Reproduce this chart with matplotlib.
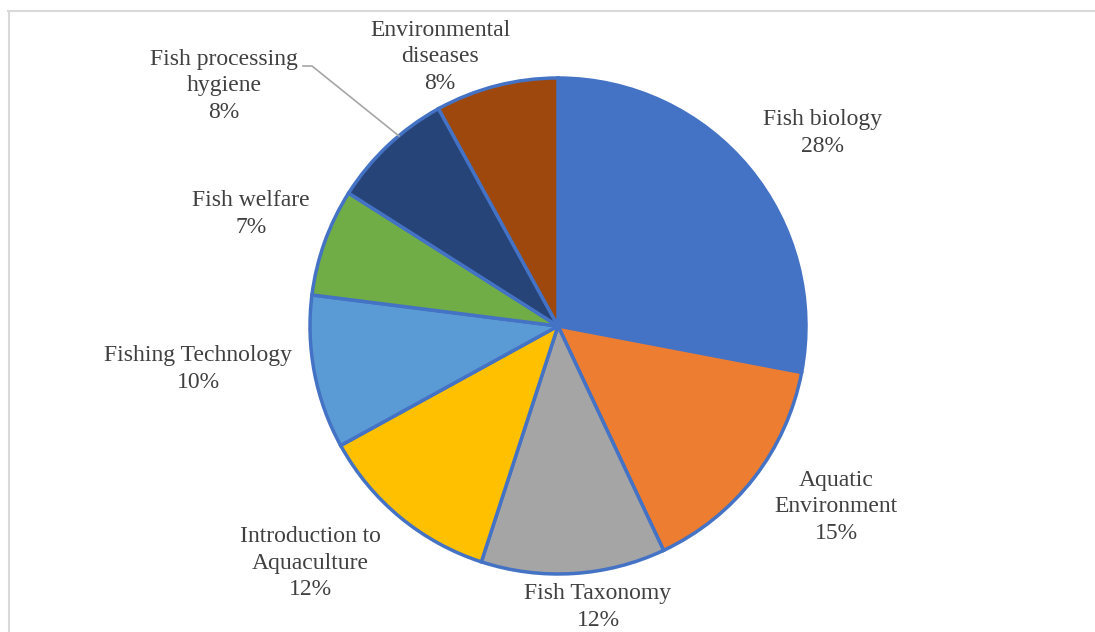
import matplotlib
matplotlib.use("Agg")
import matplotlib.pyplot as plt
from matplotlib.lines import Line2D

# Share of course topics
topics = ["Fish biology", "Aquatic\nEnvironment", "Fish Taxonomy",
          "Introduction to\nAquaculture", "Fishing Technology", "Fish welfare",
          "Fish processing\nhygiene", "Environmental\ndiseases"]
shares = [28, 15, 12, 12, 10, 7, 8, 8]
colors = ["#4472C4", "#ED7D31", "#A5A5A5", "#FFC000",
          "#5B9BD5", "#70AD47", "#264478", "#9E480E"]

W, H = 1095, 632
plt.rcParams["font.family"] = ["Liberation Serif", "DejaVu Serif"]

fig = plt.figure(figsize=(W / 100, H / 100), dpi=100)
ax = fig.add_axes([0, 0, 1, 1])

cx, cy, r = 558, H - 326, 248
ax.pie(shares, colors=colors, startangle=90, counterclock=False,
       center=(cx, cy), radius=r, frame=True,
       wedgeprops=dict(edgecolor="#4472C4", linewidth=2.5))
ax.set_xlim(0, W)
ax.set_ylim(0, H)
ax.set_aspect("equal")
ax.axis("off")

# label anchor points (pixel coords, y from top)
label_pos = [(823, 133), (836, 507), (598, 607), (310, 563),
             (198, 369), (251, 214), (224, 86), (440, 57)]
for name, val, (x, y) in zip(topics, shares, label_pos):
    ax.text(x, H - y, f"{name}\n{val}%", ha="center", va="center",
            fontsize=17, color="#404040", linespacing=1.36)

# leader line for the small slice label
ax.add_line(Line2D([303, 312, 399], [H - 66, H - 66, H - 136],
                   color="#A6A6A6", linewidth=1.2))

# chart area border
fig.add_artist(Line2D([8 / W, 1], [1 - 10.5 / H, 1 - 10.5 / H],
                      transform=fig.transFigure, color="#D9D9D9", linewidth=1.5))
fig.add_artist(Line2D([8.5 / W, 8.5 / W], [0, 1 - 10.5 / H],
                      transform=fig.transFigure, color="#D9D9D9", linewidth=1.5))

fig.savefig("out.png", dpi=100)
